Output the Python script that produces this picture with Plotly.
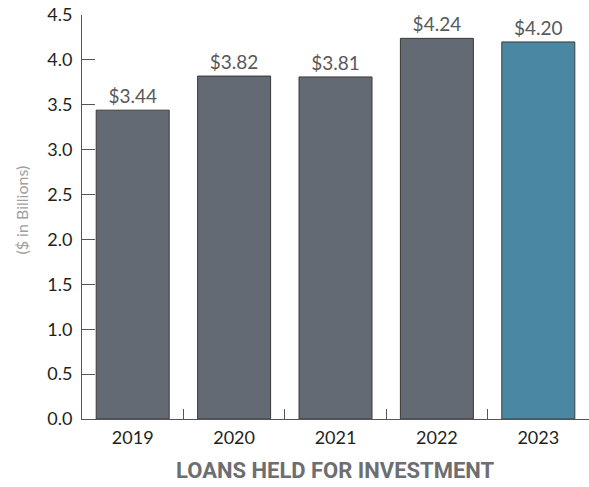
import plotly.graph_objects as go

years = ["2019", "2020", "2021", "2022", "2023"]
values = [3.44, 3.82, 3.81, 4.24, 4.20]
labels = ["$3.44", "$3.82", "$3.81", "$4.24", "$4.20"]
bar_colors = ["#636a74", "#636a74", "#636a74", "#636a74", "#4a87a3"]
y_ticks = [0, 0.5, 1.0, 1.5, 2.0, 2.5, 3.0, 3.5, 4.0, 4.5]

fig = go.Figure()
fig.add_trace(go.Bar(
    x=years, y=values, text=labels, textposition="outside",
    textfont=dict(family="Lato, Open Sans, sans-serif", size=19, color="#58595b"),
    marker=dict(color=bar_colors, line=dict(color="#3a3a3a", width=1)),
    width=0.72, cliponaxis=False, hoverinfo="skip",
))

fig.update_layout(
    width=589, height=487,
    margin=dict(l=82, r=0, t=15, b=68),
    paper_bgcolor="white", plot_bgcolor="white",
    showlegend=False,
    font=dict(family="Lato, Open Sans, sans-serif", size=18, color="#231f20"),
    xaxis=dict(
        type="category", range=[-0.5, 4.5], automargin=False,
        showline=True, linecolor="#555555", linewidth=1,
        ticks="inside", tickson="boundaries", ticklen=10, tickcolor="#555555",
        showgrid=False, zeroline=False, ticklabelstandoff=2,
        tickfont=dict(size=18, color="#231f20"),
    ),
    yaxis=dict(
        range=[0, 4.5001], tickvals=y_ticks, automargin=False,
        ticktext=[f"{v:.1f}" for v in y_ticks],
        showline=True, linecolor="#555555", linewidth=1,
        ticks="inside", ticklen=13, tickcolor="#555555",
        showgrid=False, zeroline=False, ticklabelstandoff=5,
        ticklabeloverflow="allow",
        tickfont=dict(size=18, color="#231f20"),
    ),
    annotations=[
        dict(text="($ in Billions)", xref="paper", yref="paper", x=0, y=0.516,
             xanchor="center", yanchor="middle", xshift=-60, textangle=-90,
             showarrow=False,
             font=dict(family="Lato, Open Sans, sans-serif", size=16, color="#a0a0a0")),
        dict(text="<b>LOANS HELD FOR INVESTMENT</b>", xref="paper", yref="paper",
             x=0.5, y=0, xanchor="center", yanchor="middle", yshift=-51,
             showarrow=False,
             font=dict(family="Roboto, sans-serif", size=22, color="#6d6e71")),
    ],
)

fig.write_html("out.html", config={"displayModeBar": False},
               post_script="document.body.style.margin='0';")
